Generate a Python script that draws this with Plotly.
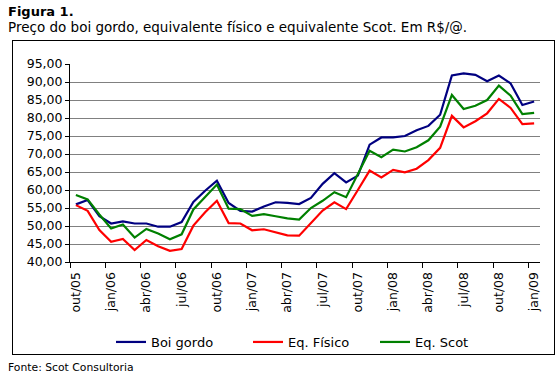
import plotly.graph_objects as go

# ---- data ----
months = ["out/05","nov/05","dez/05","jan/06","fev/06","mar/06","abr/06","mai/06","jun/06","jul/06",
          "ago/06","set/06","out/06","nov/06","dez/06","jan/07","fev/07","mar/07","abr/07","mai/07",
          "jun/07","jul/07","ago/07","set/07","out/07","nov/07","dez/07","jan/08","fev/08","mar/08",
          "abr/08","mai/08","jun/08","jul/08","ago/08","set/08","out/08","nov/08","dez/08","jan/09"]
boi_gordo = [56.0, 57.2, 52.7, 50.7, 51.3, 50.7, 50.7, 49.8, 49.8, 51.1,
             56.7, 59.8, 62.6, 56.4, 54.2, 54.0, 55.4, 56.6, 56.4, 56.1,
             57.8, 61.7, 64.7, 62.1, 64.0, 72.6, 74.6, 74.6, 75.0, 76.6,
             77.8, 80.9, 91.8, 92.4, 92.0, 90.2, 91.8, 89.6, 83.6, 84.6]
eq_fisico = [55.8, 54.2, 48.9, 45.6, 46.4, 43.3, 46.1, 44.4, 43.1, 43.6,
             50.1, 53.8, 57.0, 50.8, 50.7, 48.8, 49.1, 48.3, 47.4, 47.3,
             50.7, 54.3, 56.6, 54.7, 60.0, 65.4, 63.5, 65.6, 64.9, 65.9,
             68.3, 71.7, 80.6, 77.4, 79.1, 81.3, 85.3, 82.8, 78.3, 78.5]
eq_scot = [58.6, 57.4, 53.2, 49.3, 50.4, 46.8, 49.2, 47.9, 46.3, 47.7,
           54.6, 58.0, 61.5, 54.8, 54.7, 52.8, 53.3, 52.7, 52.1, 51.8,
           55.0, 57.0, 59.4, 58.0, 64.5, 70.9, 69.1, 71.2, 70.7, 71.9,
           73.8, 77.6, 86.4, 82.5, 83.4, 85.0, 89.0, 86.2, 81.1, 81.4]
x_labels = ["out/05","jan/06","abr/06","jul/06","out/06","jan/07","abr/07","jul/07",
            "out/07","jan/08","abr/08","jul/08","out/08","jan/09"]
y_ticks = [40, 45, 50, 55, 60, 65, 70, 75, 80, 85, 90, 95]

# ---- layout geometry (pixels) ----
W, H = 559, 378
FL, FR, FT, FB = 13, 554, 41, 354          # outer chart frame
PL, PR, PT, PB = 70, 540, 64, 262          # plot area
FW, FH = FR - FL, FB - FT
FONT = "DejaVu Sans"

def px_x(x):
    return (x - FL) / FW

def px_y(y):
    return 1 - (y - FT) / FH

idx = list(range(len(months)))
label_pos = [idx[months.index(m)] for m in x_labels]
bounds = [p - 0.5 for p in label_pos]

series = [("Boi gordo", boi_gordo, "#000080", "legend", 111),
          ("Eq. Físico", eq_fisico, "#FF0000", "legend2", 248),
          ("Eq. Scot", eq_scot, "#008000", "legend3", 375)]

fig = go.Figure()
legends = {}
for name, vals, col, leg, lx in series:
    fig.add_trace(go.Scatter(x=idx, y=vals, mode="lines", name=name, legend=leg,
                             line=dict(color=col, width=2.2)))
    legends[leg] = dict(orientation="h", x=px_x(lx), xanchor="left", y=px_y(342),
                        yanchor="middle", font=dict(size=13, family=FONT),
                        bgcolor="rgba(0,0,0,0)", itemwidth=30)

# invisible placeholder so the frame subplot (x2/y2) is drawn
fig.add_trace(go.Scatter(x=[0.5], y=[0.5], xaxis="x2", yaxis="y2", mode="markers",
                         marker=dict(opacity=0, size=1), showlegend=False,
                         hoverinfo="skip"))

frame_axis = dict(domain=[0, 1], range=[0, 1], showline=True, mirror=True,
                  linecolor="#000000", linewidth=1, ticks="", showticklabels=False,
                  showgrid=False, zeroline=False, fixedrange=True)

fig.update_layout(
    width=W, height=H,
    margin=dict(l=FL, r=W - FR, t=FT, b=H - FB, autoexpand=False),
    paper_bgcolor="white", plot_bgcolor="rgba(0,0,0,0)",
    font=dict(family=FONT, color="black", size=12.5),
    showlegend=True,
    **legends,
    xaxis=dict(domain=[px_x(PL), px_x(PR)], anchor="y",
               range=[-0.5, len(months) - 0.5], tickmode="array", tickvals=label_pos,
               ticktext=x_labels, tickangle=-90, ticks="", showgrid=False, zeroline=False,
               showline=True, linecolor="black", linewidth=1,
               tickfont=dict(size=12.5, family=FONT),
               minor=dict(tickmode="array", tickvals=bounds, ticks="outside", ticklen=5,
                          tickcolor="black", showgrid=False),
               ticklabelstandoff=4),
    yaxis=dict(domain=[px_y(PB), px_y(PT)], anchor="x",
               range=[40, 95], tickmode="array", tickvals=y_ticks,
               ticktext=[f"{v:.2f}".replace(".", ",") for v in y_ticks],
               ticks="outside", ticklen=4, tickcolor="black", showgrid=True,
               gridcolor="#808080", gridwidth=1, zeroline=False, showline=True,
               linecolor="black", linewidth=1, tickfont=dict(size=12.5, family=FONT)),
    xaxis2=dict(anchor="y2", **frame_axis),
    yaxis2=dict(anchor="x2", **frame_axis),
)

fig.add_annotation(text="<b>Figura 1.</b>", xref="paper", yref="paper", x=px_x(6), y=px_y(11),
                   xanchor="left", yanchor="middle", showarrow=False,
                   font=dict(size=13, family=FONT))
fig.add_annotation(text="Preço do boi gordo, equivalente físico e equivalente Scot. Em R$/@.",
                   xref="paper", yref="paper", x=px_x(6), y=px_y(27),
                   xanchor="left", yanchor="middle", showarrow=False,
                   font=dict(size=13.5, family=FONT))
fig.add_annotation(text="Fonte: Scot Consultoria", xref="paper", yref="paper",
                   x=px_x(6), y=px_y(367), xanchor="left", yanchor="middle", showarrow=False,
                   font=dict(size=10.8, family=FONT))

fig.write_html("out.html", config={"displayModeBar": False},
               post_script="document.body.style.margin='0';")
